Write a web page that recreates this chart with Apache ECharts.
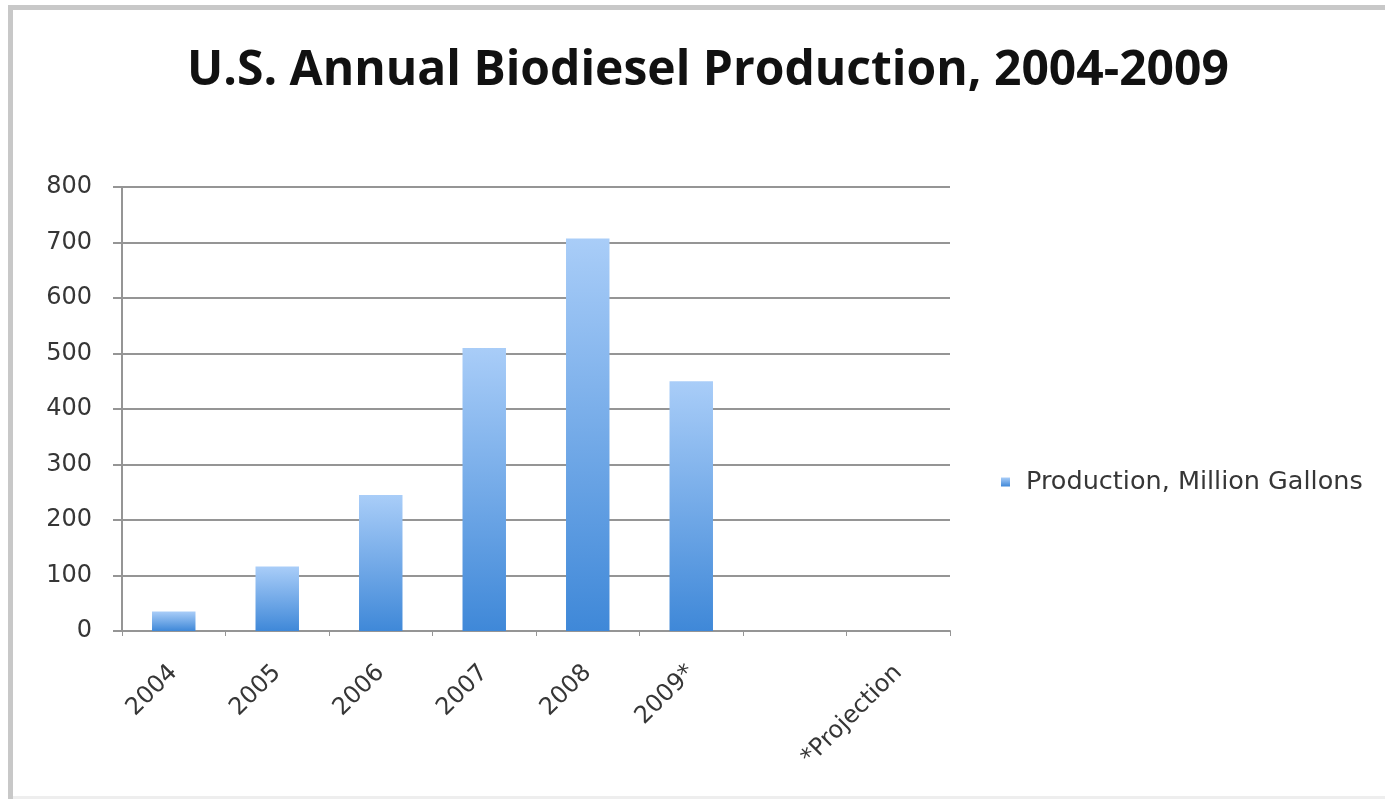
<!DOCTYPE html>
<html>
<head>
<meta charset="utf-8">
<script src="https://cdn.jsdelivr.net/npm/echarts@6/dist/echarts.min.js"></script>
<style>
html,body{margin:0;padding:0;background:#fff;}
#chart{width:1385px;height:799px;}
</style>
</head>
<body>
<div id="chart"></div>
<script>
const titleText = 'U.S. Annual Biodiesel Production, 2004-2009';
const categories = ['2004', '2005', '2006', '2007', '2008', '2009*', '', '*Projection'];
const seriesName = 'Production, Million Gallons';
const production = [35, 116, 245, 510, 707, 450, null, null];
const yTicks = { min: 0, max: 800, interval: 100 };

const chart = echarts.init(document.getElementById('chart'), null, { renderer: 'canvas' });
const textColor = '#363636';
chart.setOption({
  animation: false,
  backgroundColor: '#ffffff',
  title: {
    text: titleText,
    left: 182,
    top: 42,
    textStyle: { fontFamily: 'Open Sans', fontWeight: 'bold', fontSize: 48, color: '#111111' }
  },
  legend: {
    data: [seriesName],
    orient: 'vertical',
    left: 996,
    top: 460,
    icon: 'rect',
    itemWidth: 9,
    itemHeight: 9,
    itemGap: 6,
    textStyle: { fontFamily: 'DejaVu Sans', fontSize: 25.5, lineHeight: 28, color: textColor, padding: [6, 0, 0, 11] }
  },
  grid: { left: 122, right: 435, top: 187, height: 444, containLabel: false },
  xAxis: {
    type: 'category',
    data: categories,
    boundaryGap: true,
    axisLine: { lineStyle: { color: '#959595', width: 2 } },
    axisTick: { show: true, length: 5, lineStyle: { color: '#959595', width: 1 } },
    axisLabel: {
      interval: 0,
      rotate: 45,
      margin: 38,
      fontFamily: 'DejaVu Sans',
      fontSize: 24,
      color: textColor
    }
  },
  yAxis: {
    type: 'value',
    min: yTicks.min,
    max: yTicks.max,
    interval: yTicks.interval,
    axisLine: { show: true, lineStyle: { color: '#959595', width: 2 } },
    axisTick: { show: true, length: 9, lineStyle: { color: '#959595', width: 2 } },
    splitLine: { show: true, lineStyle: { color: '#959595', width: 2 } },
    axisLabel: {
      margin: 30,
      fontFamily: 'DejaVu Sans',
      fontSize: 24,
      color: textColor
    }
  },
  series: [{
    name: seriesName,
    type: 'bar',
    data: production,
    barWidth: '42%',
    itemStyle: {
      color: new echarts.graphic.LinearGradient(0, 0, 0, 1, [
        { offset: 0, color: '#a9cdf8' },
        { offset: 1, color: '#3f88d8' }
      ])
    }
  }],
  graphic: [
    { type: 'rect', shape: { x: 8, y: 5, width: 1377, height: 5 }, style: { fill: '#c8c8c8' }, silent: true },
    { type: 'rect', shape: { x: 8, y: 5, width: 5, height: 794 }, style: { fill: '#c8c8c8' }, silent: true },
    { type: 'rect', shape: { x: 13, y: 796, width: 1372, height: 3 }, style: { fill: '#eeeeee' }, silent: true }
  ]
});
</script>
</body>
</html>
